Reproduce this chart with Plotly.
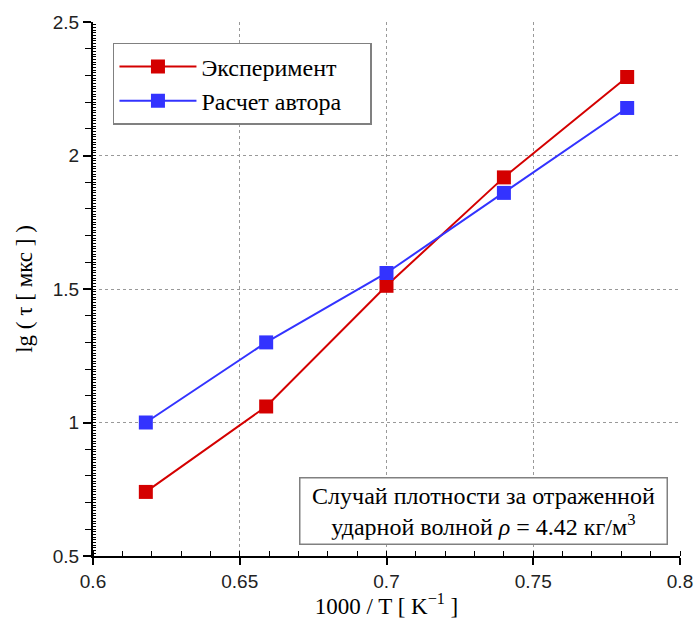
import plotly.graph_objects as go

x_vals = [0.618, 0.659, 0.700, 0.740, 0.782]
exp_vals = [0.74, 1.06, 1.512, 1.918, 2.294]
calc_vals = [1.00, 1.30, 1.56, 1.86, 2.178]
series_names = ["Эксперимент", "Расчет автора"]
x_ticks = [0.6, 0.65, 0.7, 0.75, 0.8]
x_tick_labels = ["0.6", "0.65", "0.7", "0.75", "0.8"]
y_ticks = [0.5, 1, 1.5, 2, 2.5]
y_tick_labels = ["0.5", "1", "1.5", "2", "2.5"]

serif = "Liberation Serif"
sans = "Liberation Sans"
pad = "\u00a0" * 4

fig = go.Figure()
fig.add_trace(go.Scatter(
    x=x_vals, y=exp_vals, name=series_names[0] + pad, mode="lines+markers",
    line=dict(color="#d40000", width=2),
    marker=dict(symbol="square", size=14, color="#d40000"),
))
fig.add_trace(go.Scatter(
    x=x_vals, y=calc_vals, name=series_names[1] + pad, mode="lines+markers",
    line=dict(color="#3333ff", width=2),
    marker=dict(symbol="square", size=14, color="#3333ff"),
))
# invisible trace on overlay axis for fine ticks
fig.add_trace(go.Scatter(x=[0.6], y=[0.5], xaxis="x", yaxis="y2", mode="markers",
                         marker=dict(opacity=0), showlegend=False, hoverinfo="skip"))

fig.update_layout(
    width=694, height=619,
    margin=dict(l=93, r=14, t=22, b=63),
    paper_bgcolor="white", plot_bgcolor="white",
    showlegend=True,
    legend=dict(
        x=0.034, y=0.961, xanchor="left", yanchor="top",
        bordercolor="#808080", borderwidth=1.5,
        font=dict(family=serif, size=24, color="black"),
        bgcolor="white", itemwidth=77,
        tracegroupgap=8,
    ),
    xaxis=dict(
        range=[0.6, 0.8], tickvals=x_ticks, ticktext=x_tick_labels,
        automargin=False,
        showline=True, linecolor="black", linewidth=2,
        ticks="outside", ticklen=7, tickwidth=1.5, tickcolor="black",
        tickfont=dict(family=sans, size=19, color="#222"),
        showgrid=True, gridcolor="#999", griddash="dot", gridwidth=1,
        zeroline=False,
        minor=dict(dtick=0.01, ticks="inside", ticklen=5, tickcolor="black", tickwidth=1, showgrid=False),
        title=dict(text="1000 / T [ K<sup>−1</sup> ]", font=dict(family=serif, size=23, color="black"), standoff=4),
    ),
    yaxis=dict(
        range=[0.5, 2.5], tickvals=y_ticks, ticktext=y_tick_labels,
        automargin=False,
        showline=True, linecolor="black", linewidth=2,
        ticks="outside", ticklen=8, tickwidth=1.5, tickcolor="black",
        tickfont=dict(family=sans, size=19, color="#222"),
        showgrid=True, gridcolor="#999", griddash="dot", gridwidth=1,
        zeroline=False,
        minor=dict(dtick=0.1, ticks="outside", ticklen=6, tickcolor="black", tickwidth=1, showgrid=False),
        title=dict(text="lg ( τ [ мкс ] )", font=dict(family=serif, size=23, color="black"), standoff=14),
    ),
    yaxis2=dict(
        range=[0.5, 2.5], overlaying="y", side="left", anchor="x",
        automargin=False,
        showticklabels=False, showgrid=False, zeroline=False, showline=False,
        tickmode="linear", tick0=0.5, dtick=0.01, ticks="inside", ticklen=3,
        tickcolor="black", tickwidth=1,
    ),
    annotations=[dict(
        xref="paper", yref="paper", x=0.98, y=0.02, xanchor="right", yanchor="bottom",
        text="Случай плотности за отраженной<br>ударной волной <i>ρ</i> = 4.42 кг/м<sup>3</sup>",
        showarrow=False, align="center", width=358,
        font=dict(family=serif, size=24, color="black"),
        bordercolor="#808080", borderwidth=1.5, borderpad=4, bgcolor="white",
    )],
)

fig.write_html("out.html", config={"displayModeBar": False},
               post_script="document.body.style.margin='0';document.body.style.overflow='hidden';")
